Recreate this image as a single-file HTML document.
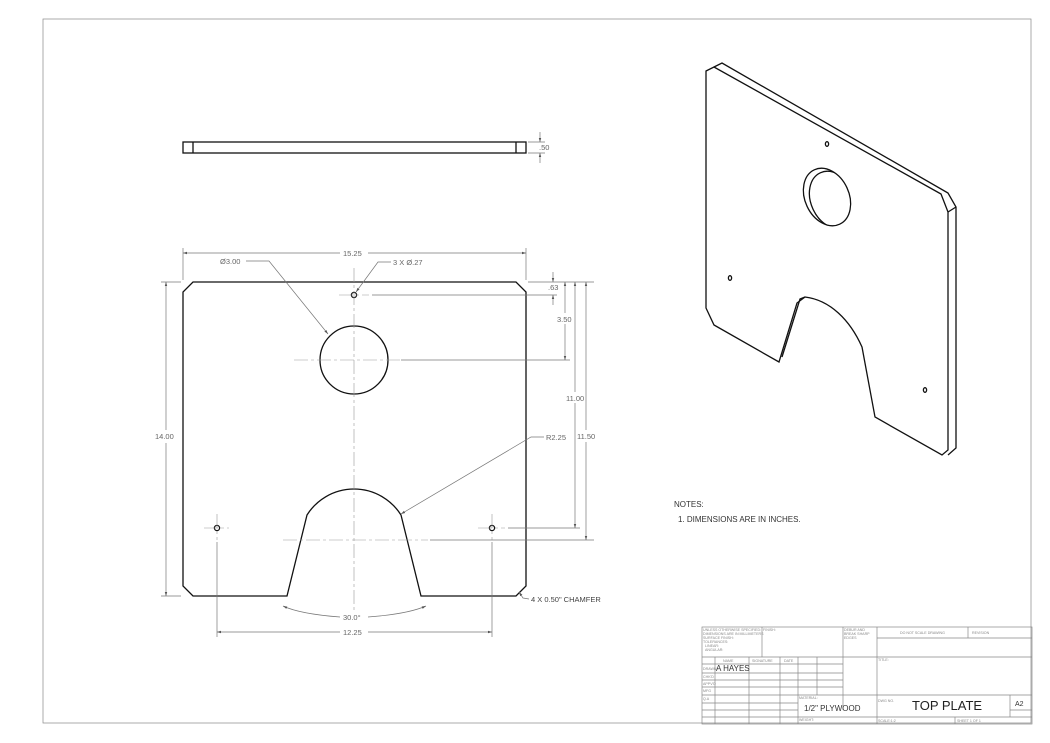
<!DOCTYPE html>
<html><head><meta charset="utf-8"><style>
html,body{margin:0;padding:0;background:#fff;}
svg{display:block;font-family:"Liberation Sans",sans-serif;}
.o{fill:none;stroke:#111;stroke-width:1.3}
.d{fill:none;stroke:#777;stroke-width:0.7}
.c{fill:none;stroke:#999;stroke-width:0.6;stroke-dasharray:14 3 3 3}
.t{fill:#666;font-size:7.5px}
.tb{fill:none;stroke:#888;stroke-width:0.7}
.s{fill:#888;font-size:3.6px}
</style></head><body>
<svg width="1050" height="743" viewBox="0 0 1050 743">
<defs><marker id="a" viewBox="0 0 10 10" refX="10" refY="5" markerWidth="6" markerHeight="6" orient="auto-start-reverse"><path d="M0,2 L10,5 L0,8 z" fill="#555"/></marker>
<clipPath id="hc"><ellipse cx="827" cy="197" rx="22" ry="30" transform="rotate(-25 827 197)"/></clipPath></defs>
<rect x="43" y="19" width="988" height="704" class="tb"/>

<rect x="183" y="142" width="343" height="11" class="o"/>
<line x1="193" y1="142" x2="193" y2="153" class="o" stroke-width="0.8"/>
<line x1="516" y1="142" x2="516" y2="153" class="o" stroke-width="0.8"/>
<line x1="528" y1="142" x2="545" y2="142" class="d"/><line x1="528" y1="153" x2="545" y2="153" class="d"/>
<line x1="540" y1="132" x2="540" y2="142" class="d" marker-end="url(#a)"/><line x1="540" y1="163" x2="540" y2="153" class="d" marker-end="url(#a)"/>
<text x="539" y="150" class="t">.50</text>

<path class="o" d="M193,282 L516,282 L526,292 L526,586 L516,596 L421,596 L401,515 A55.5,55.5 0 0 0 307,515 L287,596 L193,596 L183,586 L183,292 Z"/>
<circle cx="354" cy="360" r="34" class="o"/>
<circle cx="354" cy="295" r="2.6" class="o"/>
<circle cx="217" cy="528" r="2.6" class="o"/>
<circle cx="492" cy="528" r="2.6" class="o"/>
<line x1="354" y1="268" x2="354" y2="612" class="c"/>
<line x1="294" y1="360" x2="400" y2="360" class="c"/>
<line x1="283" y1="540" x2="428" y2="540" class="c"/>
<line x1="339" y1="295" x2="369" y2="295" class="c"/>
<line x1="204" y1="528" x2="229" y2="528" class="c"/><line x1="217" y1="514" x2="217" y2="540" class="c"/>
<line x1="478" y1="528" x2="505" y2="528" class="c"/><line x1="492" y1="514" x2="492" y2="540" class="c"/>

<line x1="183" y1="248" x2="183" y2="280" class="d"/><line x1="526" y1="248" x2="526" y2="280" class="d"/>
<line x1="183" y1="253" x2="340" y2="253" class="d" marker-start="url(#a)"/><line x1="368" y1="253" x2="526" y2="253" class="d" marker-end="url(#a)"/>
<text x="343" y="256" class="t">15.25</text>
<line x1="161" y1="282" x2="181" y2="282" class="d"/><line x1="161" y1="596" x2="181" y2="596" class="d"/>
<line x1="166" y1="282" x2="166" y2="430" class="d" marker-start="url(#a)"/><line x1="166" y1="443" x2="166" y2="596" class="d" marker-end="url(#a)"/>
<text x="155" y="439" class="t">14.00</text>
<line x1="217" y1="542" x2="217" y2="637" class="d"/><line x1="492" y1="542" x2="492" y2="637" class="d"/>
<line x1="217" y1="632" x2="340" y2="632" class="d" marker-start="url(#a)"/><line x1="368" y1="632" x2="492" y2="632" class="d" marker-end="url(#a)"/>
<text x="343" y="635" class="t">12.25</text>
<path d="M283,606 Q300,614 340,617" class="d" marker-start="url(#a)"/><path d="M368,617 Q408,614 426,606" class="d" marker-end="url(#a)"/>
<text x="343" y="620" class="t">30.0°</text>
<line x1="528" y1="282" x2="594" y2="282" class="d"/>
<line x1="372" y1="295" x2="557" y2="295" class="d"/>
<line x1="553" y1="272" x2="553" y2="282" class="d" marker-end="url(#a)"/><line x1="553" y1="305" x2="553" y2="295" class="d" marker-end="url(#a)"/>
<text x="548" y="290" class="t">.63</text>
<line x1="401" y1="360" x2="570" y2="360" class="d"/>
<line x1="565" y1="282" x2="565" y2="313" class="d" marker-start="url(#a)"/><line x1="565" y1="324" x2="565" y2="360" class="d" marker-end="url(#a)"/>
<text x="557" y="322" class="t">3.50</text>
<line x1="508" y1="528" x2="580" y2="528" class="d"/>
<line x1="575" y1="282" x2="575" y2="392" class="d" marker-start="url(#a)"/><line x1="575" y1="403" x2="575" y2="528" class="d" marker-end="url(#a)"/>
<text x="566" y="401" class="t">11.00</text>
<line x1="430" y1="540" x2="594" y2="540" class="d"/>
<line x1="586" y1="282" x2="586" y2="430" class="d" marker-start="url(#a)"/><line x1="586" y1="442" x2="586" y2="540" class="d" marker-end="url(#a)"/>
<text x="577" y="439" class="t">11.50</text>
<text x="220" y="264" class="t">Ø3.00</text>
<polyline points="246,261 269,261 328,334" class="d" marker-end="url(#a)"/>
<text x="393" y="265" class="t">3 X Ø.27</text>
<polyline points="391,262 378,262 356,292" class="d" marker-end="url(#a)"/>
<text x="546" y="440" class="t">R2.25</text>
<polyline points="544,437 531,437 401,514" class="d" marker-end="url(#a)"/>
<polyline points="529,599 523,598 519,592" class="d" marker-end="url(#a)"/>
<text x="531" y="602" class="t" style="fill:#444">4 X 0.50" CHAMFER</text>

<path class="o" d="M706,71 L714,67 L941,194 L948,212 L948,450 L942,455 L875,417 L862,347 C850,320 830,300 805,297 L797,303 L779,362 L714,325 L706,308 Z"/>
<polyline class="o" points="714,67 722,63 948,193 956,207 956,448 948,455"/>
<line x1="948" y1="212" x2="956" y2="207" class="o"/>
<polyline class="o" points="782,357 800,299 805,297" stroke-width="1"/>
<ellipse cx="827" cy="197" rx="22" ry="30" transform="rotate(-25 827 197)" class="o"/>
<g clip-path="url(#hc)"><ellipse cx="833" cy="200" rx="22" ry="30" transform="rotate(-25 833 200)" class="o" stroke-width="1"/></g>
<ellipse cx="827" cy="144" rx="1.6" ry="2.3" class="o" stroke-width="0.9"/>
<ellipse cx="730" cy="278" rx="1.6" ry="2.3" class="o" stroke-width="0.9"/>
<ellipse cx="925" cy="390" rx="1.6" ry="2.3" class="o" stroke-width="0.9"/>

<text x="674" y="507" style="fill:#333;font-size:8px">NOTES:</text>
<text x="678" y="522" style="fill:#333;font-size:8px">1. DIMENSIONS ARE IN INCHES.</text>

<g class="tb">
<rect x="702" y="627" width="330" height="97"/>
<line x1="702" y1="657" x2="877" y2="657"/>
<line x1="762" y1="627" x2="762" y2="657"/>
<line x1="843" y1="627" x2="843" y2="710"/>
<line x1="877" y1="627" x2="877" y2="724"/>
<line x1="877" y1="638" x2="1032" y2="638"/>
<line x1="968" y1="627" x2="968" y2="638"/>
<line x1="877" y1="657" x2="1032" y2="657"/>
<line x1="877" y1="695" x2="1032" y2="695"/>
<line x1="877" y1="717" x2="1032" y2="717"/>
<line x1="1010" y1="695" x2="1010" y2="717"/>
<line x1="1010" y1="710" x2="1032" y2="710"/>
<line x1="955" y1="717" x2="955" y2="724"/>
<line x1="702" y1="664" x2="843" y2="664"/>
<line x1="702" y1="673" x2="843" y2="673"/>
<line x1="702" y1="680" x2="843" y2="680"/>
<line x1="702" y1="687" x2="843" y2="687"/>
<line x1="702" y1="695" x2="798" y2="695"/>
<line x1="702" y1="703" x2="798" y2="703"/>
<line x1="702" y1="710" x2="798" y2="710"/>
<line x1="702" y1="717" x2="877" y2="717"/>
<line x1="798" y1="695" x2="877" y2="695"/>
<line x1="715" y1="657" x2="715" y2="724"/>
<line x1="749" y1="657" x2="749" y2="724"/>
<line x1="780" y1="657" x2="780" y2="724"/>
<line x1="798" y1="657" x2="798" y2="724"/>
<line x1="817" y1="657" x2="817" y2="695"/>
</g>
<text x="703" y="631" class="s">UNLESS OTHERWISE SPECIFIED:</text>
<text x="703" y="635" class="s">DIMENSIONS ARE IN MILLIMETERS</text>
<text x="703" y="639" class="s">SURFACE FINISH:</text>
<text x="703" y="643" class="s">TOLERANCES:</text>
<text x="705" y="647" class="s">LINEAR:</text>
<text x="705" y="651" class="s">ANGULAR:</text>
<text x="763" y="631" class="s">FINISH:</text>
<text x="844" y="631" class="s">DEBUR AND</text>
<text x="844" y="635" class="s">BREAK SHARP</text>
<text x="844" y="639" class="s">EDGES</text>
<text x="900" y="634" class="s">DO NOT SCALE DRAWING</text>
<text x="972" y="634" class="s">REVISION</text>
<text x="723" y="662" class="s">NAME</text>
<text x="752" y="662" class="s">SIGNATURE</text>
<text x="784" y="662" class="s">DATE</text>
<text x="703" y="670" class="s">DRAWN</text>
<text x="716" y="671" style="fill:#333;font-size:8px">A HAYES</text>
<text x="703" y="678" class="s">CHK'D</text>
<text x="703" y="685" class="s">APPV'D</text>
<text x="703" y="692" class="s">MFG</text>
<text x="703" y="700" class="s">Q.A</text>
<text x="799" y="699" class="s">MATERIAL:</text>
<text x="804" y="711" style="fill:#333;font-size:8px">1/2" PLYWOOD</text>
<text x="799" y="721" class="s">WEIGHT:</text>
<text x="878" y="661" class="s">TITLE:</text>
<text x="878" y="702" class="s">DWG NO.</text>
<text x="912" y="710" style="fill:#222;font-size:13px">TOP PLATE</text>
<text x="1015" y="706" style="fill:#333;font-size:7px">A2</text>
<text x="878" y="722" class="s">SCALE:1:2</text>
<text x="957" y="722" class="s">SHEET 1 OF 1</text>
</svg>
</body></html>
